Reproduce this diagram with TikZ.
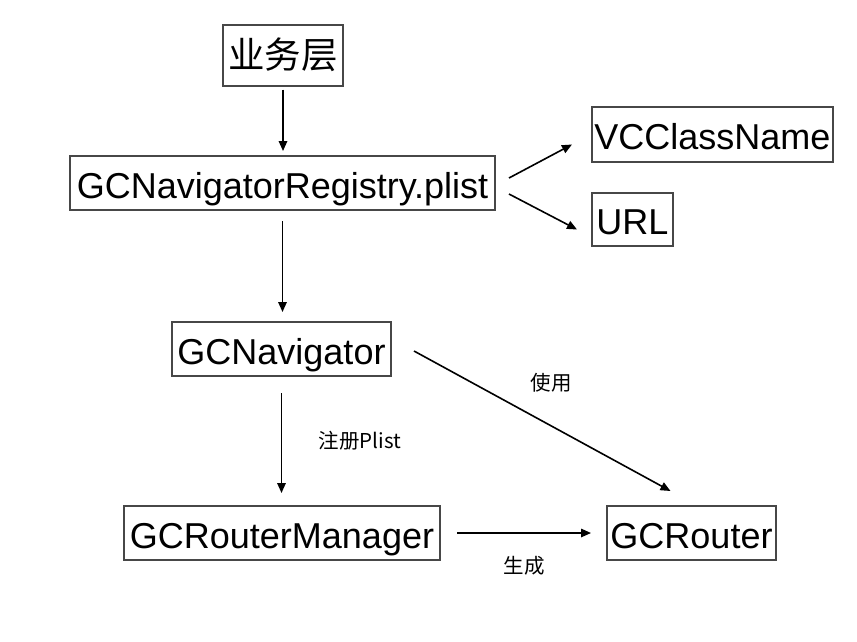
\documentclass[tikz,border=0pt]{standalone}
\usepackage{fontspec}
\setmainfont{Liberation Sans}
\newfontfamily\cjk{Noto Sans CJK SC}
\usetikzlibrary{arrows.meta}
\begin{document}
\begin{tikzpicture}[x=1pt,y=-1pt,
  frame/.style={draw=black!72, line width=2pt, inner sep=0pt},
  box/.style={frame, font=\fontsize{36}{42}\selectfont, text height=30pt, text depth=0pt},
  arr/.style={-{Triangle[length=10pt,width=8.5pt]}, line width=1.6pt},
  lab/.style={font=\cjk\fontsize{20.5}{24}\selectfont, inner sep=0pt}]
\useasboundingbox (0,0) rectangle (857,641);
\node[frame, minimum width=120pt, minimum height=61pt, font=\cjk\fontsize{36.5}{42}\selectfont] (biz) at (283,55) {业务层};
\node[box, minimum width=425pt, minimum height=54pt] (reg) at (282.5,183) {GCNavigatorRegistry.plist};
\node[box, minimum width=241pt, minimum height=55pt] (vcc) at (712.5,134.5) {VCClassName};
\node[box, minimum width=81pt, minimum height=53pt] (url) at (632.5,219.5) {URL};
\node[box, minimum width=219pt, minimum height=54pt] (nav) at (281.5,349) {GCNavigator};
\node[box, minimum width=316pt, minimum height=54pt] (mgr) at (282,533) {GCRouterManager};
\node[box, minimum width=169pt, minimum height=54pt] (rtr) at (691.5,533) {GCRouter};

\draw[arr, shorten <=3pt, shorten >=4pt] (biz.south) -- (biz.south |- reg.north);
\draw[arr] ([shift={(13,-5)}]reg.east) -- ([shift={(-19,10)}]vcc.west);
\draw[arr] ([shift={(13,11)}]reg.east) -- ([shift={(-14,10)}]url.west);
\draw[arr, shorten <=10pt, shorten >=9pt] (reg.south) -- (reg.south |- nav.north);
\draw[arr, shorten <=16pt, shorten >=12pt] (nav.south) -- (nav.south |- mgr.north);
\draw[arr] ([shift={(22,2)}]nav.east) -- ([shift={(-21,-14)}]rtr.north);
\draw[arr, shorten <=16pt, shorten >=15pt] (mgr.east) -- (rtr.west);

\node[lab] (l1) at (360,441) {注册Plist};
\node[lab] (l2) at (551,383) {使用};
\node[lab] (l3) at (524,566) {生成};
\end{tikzpicture}
\end{document}
